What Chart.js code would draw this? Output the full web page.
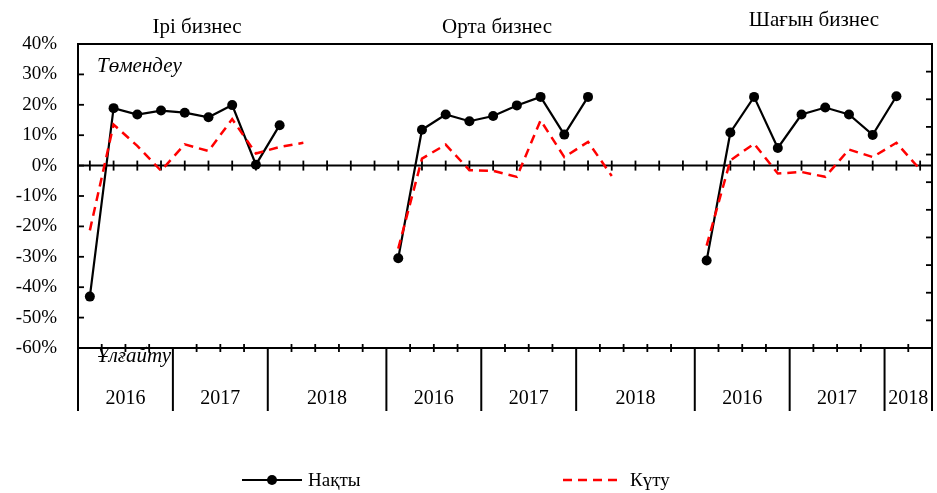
<!DOCTYPE html>
<html><head><meta charset="utf-8">
<script src="https://cdn.jsdelivr.net/npm/chart.js@4/dist/chart.umd.min.js"></script>
<style>html,body{margin:0;padding:0;background:#fff}canvas{display:block}</style>
</head><body>
<canvas id="c" width="937" height="493"></canvas>
<script>
// ---- data ----
const panelTitles = ['Ірі бизнес', 'Орта бизнес', 'Шағын бизнес'];
const years = [
  '2016','2016','2016','2016','2017','2017','2017','2017','2018','2018','2018','2018','2018',
  '2016','2016','2016','2016','2017','2017','2017','2017','2018','2018','2018','2018','2018',
  '2016','2016','2016','2016','2017','2017','2017','2017','2018','2018'
];
const quarters = [
  'I','II','III','IV','I','II','III','IV','I','II','','','',
  'I','II','III','IV','I','II','III','IV','I','II','','','',
  'I','II','III','IV','I','II','III','IV','I','II'
];
const panelOf = [
  0,0,0,0,0,0,0,0,0,0,0,0,0,
  1,1,1,1,1,1,1,1,1,1,1,1,1,
  2,2,2,2,2,2,2,2,2,2
];
const actual = [
  -43.1, 18.9, 16.8, 18.1, 17.4, 15.9, 19.9, 0.3, 13.3, null, null, null, null,
  -30.5, 11.8, 16.8, 14.6, 16.3, 19.8, 22.6, 10.2, 22.6, null, null, null, null,
  -31.2, 10.9, 22.6, 5.8, 16.8, 19.1, 16.8, 10.1, 22.8, null
];
const expected = [
  -21.3, 13.5, 6.5, -1.7, 7.0, 4.8, 15.3, 4.0, 6.1, 7.5, null, null, null,
  -27.3, 2.3, 6.9, -1.5, -1.7, -3.7, 14.9, 2.8, 7.8, -3.4, null, null, null,
  -26.3, 1.7, 7.2, -2.6, -2.1, -3.7, 5.3, 2.8, 7.5, -1.3
];
const seriesNames = ['Нақты', 'Күту'];
const yTicks = [40, 30, 20, 10, 0, -10, -20, -30, -40, -50, -60];
const upLabel = 'Төмендеу';
const downLabel = 'Ұлғайту';

const labels = years.map((y, i) => panelTitles[panelOf[i]] + ' ' + y + ' ' + quarters[i]);
const SERIF = '"Liberation Serif", "Times New Roman", serif';

function seg(ctx, x1, y1, x2, y2) { ctx.beginPath(); ctx.moveTo(x1, y1); ctx.lineTo(x2, y2); ctx.stroke(); }

const deco = {
  id: 'deco',
  beforeDatasetsDraw(chart) {
    const { ctx, chartArea: a, scales: { x, y } } = chart;
    ctx.save();
    ctx.strokeStyle = '#000';
    ctx.lineWidth = 2;
    ctx.setLineDash([]);
    ctx.strokeRect(a.left, a.top, a.right - a.left, a.bottom - a.top);
    const y0 = y.getPixelForValue(0);
    seg(ctx, a.left, y0, a.right, y0);
    ctx.lineWidth = 1.8;
    yTicks.forEach(v => { const yy = y.getPixelForValue(v); seg(ctx, a.left, yy, a.left + 6, yy); });
    const nR = 11;
    for (let i = 1; i < nR; i++) { const yy = a.top + (a.bottom - a.top) * i / nR; seg(ctx, a.right - 6, yy, a.right, yy); }
    for (let i = 0; i < labels.length; i++) { const xx = x.getPixelForValue(i); seg(ctx, xx, y0 - 5, xx, y0 + 5); }
    const ext = 63;
    ctx.lineWidth = 2;
    seg(ctx, a.left, a.bottom, a.left, a.bottom + ext);
    seg(ctx, a.right, a.bottom, a.right, a.bottom + ext);
    for (let i = 1; i < labels.length; i++) {
      const bx = (x.getPixelForValue(i - 1) + x.getPixelForValue(i)) / 2;
      if (years[i] !== years[i - 1] || panelOf[i] !== panelOf[i - 1]) {
        ctx.lineWidth = 2; seg(ctx, bx, a.bottom, bx, a.bottom + ext);
      } else {
        ctx.lineWidth = 1.8; seg(ctx, bx, a.bottom - 4, bx, a.bottom + 4);
      }
    }
    ctx.restore();
  },
  afterDraw(chart) {
    const { ctx, chartArea: a, scales: { x, y } } = chart;
    ctx.save();
    ctx.fillStyle = '#000';
    ctx.textBaseline = 'middle';
    ctx.font = '20px ' + SERIF;
    ctx.textAlign = 'center';
    let start = 0;
    for (let i = 1; i <= labels.length; i++) {
      if (i === labels.length || years[i] !== years[i - 1] || panelOf[i] !== panelOf[i - 1]) {
        const l = start === 0 ? a.left : (x.getPixelForValue(start - 1) + x.getPixelForValue(start)) / 2;
        const r = i === labels.length ? a.right : (x.getPixelForValue(i - 1) + x.getPixelForValue(i)) / 2;
        ctx.fillText(years[start], (l + r) / 2, a.bottom + 51);
        start = i;
      }
    }
    const titlePos = [[197, 27], [497, 27], [814, 20]];
    ctx.font = '21px ' + SERIF;
    panelTitles.forEach((t, k) => ctx.fillText(t, titlePos[k][0], titlePos[k][1]));
    ctx.font = 'italic 21px ' + SERIF;
    ctx.textAlign = 'left';
    ctx.fillText(upLabel, 97, 66);
    ctx.fillText(downLabel, 97, 356);
    const ds = chart.data.datasets;
    const ly = 480;
    const items = [[ds[1], 242, 302, 308], [ds[0], 563, 619, 630]];
    items.forEach(([d, x1, x2, tx]) => {
      ctx.strokeStyle = d.borderColor;
      ctx.lineWidth = d.borderWidth;
      ctx.setLineDash(d.borderDash || []);
      seg(ctx, x1, ly, x2, ly);
      ctx.setLineDash([]);
      if (d.pointRadius > 0) {
        ctx.fillStyle = d.pointBackgroundColor;
        ctx.beginPath(); ctx.arc((x1 + x2) / 2, ly, d.pointRadius, 0, Math.PI * 2); ctx.fill();
      }
      ctx.fillStyle = '#000';
      ctx.font = '19px ' + SERIF;
      ctx.fillText(d.label, tx, ly + 1);
    });
    ctx.restore();
  }
};

new Chart(document.getElementById('c'), {
  type: 'line',
  data: {
    labels: labels,
    datasets: [
      {
        label: seriesNames[1], data: expected, order: 0,
        borderColor: '#ff0000', borderWidth: 2.5, borderDash: [9, 6],
        pointRadius: 0, pointHoverRadius: 0, tension: 0, spanGaps: false, fill: false
      },
      {
        label: seriesNames[0], data: actual, order: 1,
        borderColor: '#000000', borderWidth: 2.2,
        pointRadius: 5, pointHoverRadius: 5, pointBackgroundColor: '#000000', pointBorderWidth: 0,
        tension: 0, spanGaps: false, fill: false
      }
    ]
  },
  options: {
    responsive: false,
    animation: false,
    devicePixelRatio: 1,
    layout: { padding: { top: 44, right: 2, bottom: 145, left: 0 } },
    plugins: { legend: { display: false }, tooltip: { enabled: false }, title: { display: false } },
    scales: {
      x: { type: 'category', offset: true, display: false },
      y: {
        min: -60, max: 40,
        afterFit(s) { s.width = 78; },
        afterBuildTicks(s) { s.ticks = yTicks.map(v => ({ value: v })); },
        grid: { display: false, drawTicks: false },
        border: { display: false },
        ticks: {
          padding: 21, color: '#000',
          font: { family: SERIF, size: 19 },
          callback: v => v + '%'
        }
      }
    }
  },
  plugins: [deco]
});
</script>
</body></html>
